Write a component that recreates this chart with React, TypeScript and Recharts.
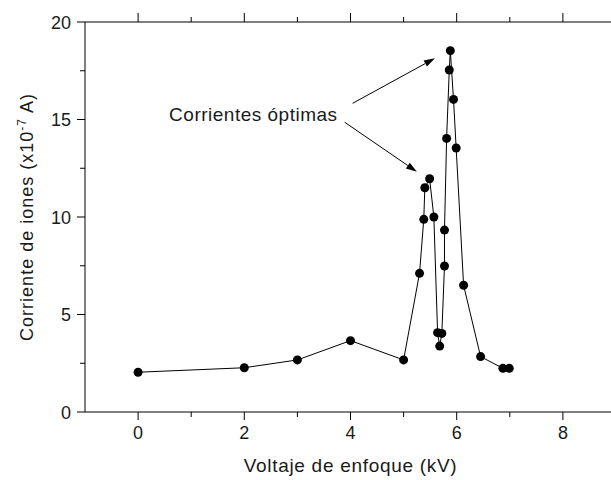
import React from 'react';
import { LineChart, Line, XAxis, YAxis, ReferenceLine, ReferenceDot } from 'recharts';

// focusing voltage (kV) and ion current (x10^-7 A)
const voltage = [0, 2, 3, 4, 5, 5.3, 5.38, 5.4, 5.49, 5.57, 5.64, 5.68, 5.72, 5.77, 5.77, 5.81, 5.86, 5.88, 5.94, 5.99, 6.13, 6.45, 6.87, 6.99];
const current = [2.04, 2.27, 2.67, 3.66, 2.67, 7.11, 9.88, 11.5, 11.96, 10.0, 4.07, 3.38, 4.03, 7.49, 9.33, 14.03, 17.54, 18.53, 16.03, 13.54, 6.5, 2.84, 2.24, 2.24];

const xTicks = [0, 1, 2, 3, 4, 5, 6, 7, 8];
const yTicks = [0, 2.5, 5, 7.5, 10, 12.5, 15, 17.5, 20];

const data = voltage.map((v, i) => ({ v, i: current[i] }));

const FONT = '"Liberation Sans", Arial, sans-serif';
const INK = '#1a1a1a';

const XTick = (props: any) => {
  const { x, y, payload, top } = props;
  const major = payload.value % 2 === 0;
  const len = top ? (major ? 9 : 5) : (major ? 8 : 5);
  return (
    <g>
      <line x1={x} x2={x} y1={y} y2={top ? y - len : y + len} stroke="#000" />
      {!top && major && (
        <text x={x} y={y + 27} textAnchor="middle" fontSize={18} fontFamily={FONT} fill={INK}>
          {payload.value}
        </text>
      )}
    </g>
  );
};

const YTick = (props: any) => {
  const { x, y, payload } = props;
  const major = payload.value % 5 === 0;
  const len = major ? 8 : 5;
  return (
    <g>
      <line x1={x} x2={x - len} y1={y} y2={y} stroke="#000" />
      {major && (
        <text x={x - 14} y={y + 6.5} textAnchor="end" fontSize={18} fontFamily={FONT} fill={INK}>
          {payload.value}
        </text>
      )}
    </g>
  );
};

const Arrow = (props: any) => {
  const { x1, y1, x2, y2 } = props;
  const a = Math.atan2(y2 - y1, x2 - x1);
  const len = 11;
  const w = 3.5;
  const bx = x2 - len * Math.cos(a);
  const by = y2 - len * Math.sin(a);
  const pts = [
    `${x2},${y2}`,
    `${bx + w * Math.sin(a)},${by - w * Math.cos(a)}`,
    `${bx - w * Math.sin(a)},${by + w * Math.cos(a)}`,
  ].join(' ');
  return (
    <g>
      <line x1={x1} y1={y1} x2={bx} y2={by} stroke="#000" strokeWidth={1} />
      <polygon points={pts} fill="#000" />
    </g>
  );
};

const XTitle = (props: any) => {
  const { viewBox } = props;
  return (
    <text
      x={viewBox.x + viewBox.width / 2}
      y={472}
      textAnchor="middle"
      fontSize={19}
      letterSpacing={0.7}
      fontFamily={FONT}
      fill={INK}
    >
      Voltaje de enfoque (kV)
    </text>
  );
};

const YTitle = () => (
  <text
    x={33}
    y={217}
    transform="rotate(-90, 33, 217)"
    textAnchor="middle"
    fontSize={18}
    letterSpacing={1}
    fontFamily={FONT}
    fill={INK}
  >
    Corriente de iones (x10
    <tspan fontSize={12} dy={-7}>-7</tspan>
    <tspan dy={7}> A)</tspan>
  </text>
);

export default function App() {
  return (
    <div style={{ position: 'absolute', left: 0, top: 0, width: 611, height: 480, overflow: 'hidden', background: '#fff' }}>
      <LineChart width={620} height={480} data={data} margin={{ top: 0, right: 4, bottom: 0, left: 0 }}>
        <XAxis
          dataKey="v"
          type="number"
          domain={[-1, 9]}
          ticks={xTicks}
          interval={0}
          height={68}
          tickSize={0}
          tickMargin={0}
          axisLine={{ stroke: '#000' }}
          tick={<XTick />}
          label={<XTitle />}
        />
        <XAxis
          xAxisId="top"
          dataKey="v"
          type="number"
          orientation="top"
          domain={[-1, 9]}
          ticks={xTicks}
          interval={0}
          height={22}
          tickSize={0}
          tickMargin={0}
          axisLine={{ stroke: '#000' }}
          tick={<XTick top />}
        />
        <YAxis
          type="number"
          domain={[0, 20]}
          ticks={yTicks}
          interval={0}
          width={85}
          tickSize={0}
          tickMargin={0}
          axisLine={{ stroke: '#000' }}
          tick={<YTick />}
          label={<YTitle />}
        />
        <ReferenceLine segment={[{ x: 4.04, y: 15.83 }, { x: 5.59, y: 18.14 }]} shape={Arrow} />
        <ReferenceLine segment={[{ x: 3.89, y: 14.86 }, { x: 5.25, y: 12.32 }]} shape={Arrow} />
        <ReferenceDot
          x={2.17}
          y={15.28}
          r={0}
          shape={(p: any) => (
            <text x={p.cx} y={p.cy + 7} textAnchor="middle" fontSize={19} letterSpacing={0.5} fontFamily={FONT} fill={INK}>
              Corrientes óptimas
            </text>
          )}
        />
        <Line
          dataKey="i"
          stroke="#000"
          strokeWidth={1}
          dot={{ r: 4.5, fill: '#000', stroke: 'none' }}
          isAnimationActive={false}
        />
      </LineChart>
    </div>
  );
}
